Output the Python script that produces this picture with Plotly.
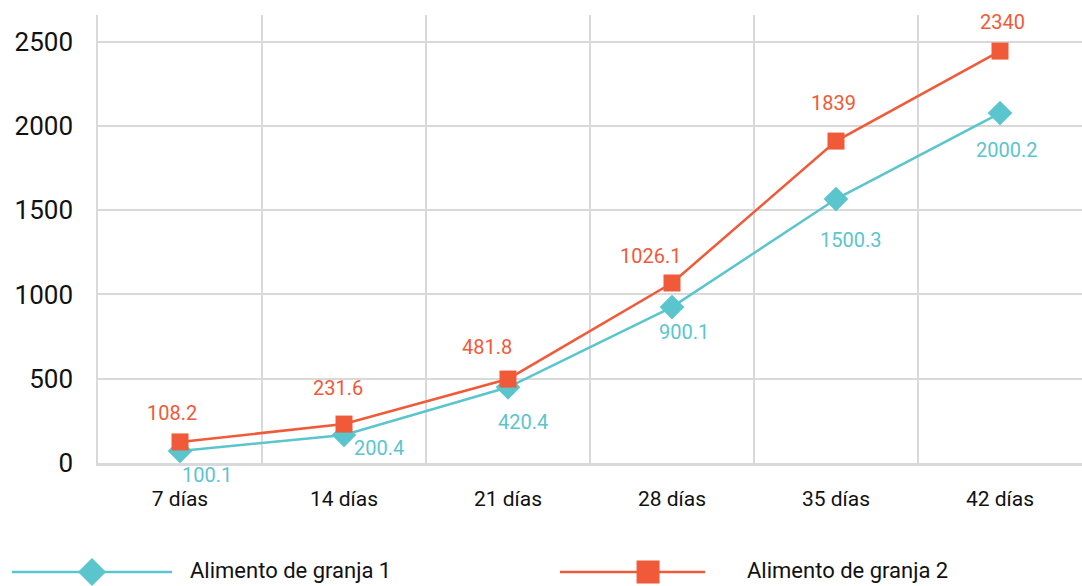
import plotly.graph_objects as go

dias = ["7 días", "14 días", "21 días", "28 días", "35 días", "42 días"]

# plotted heights as read against the gridlines
granja1 = [71, 166, 449, 925, 1566, 2076]
granja2 = [125, 231, 498, 1068, 1910, 2444]

# data labels as printed on the chart
etiquetas1 = ["100.1", "200.4", "420.4", "900.1", "1500.3", "2000.2"]
etiquetas2 = ["108.2", "231.6", "481.8", "1026.1", "1839", "2340"]

nombres = ["Alimento de granja 1", "Alimento de granja 2"]

TEAL = "#5bc5cd"
ORANGE = "#f15a38"
GRID = "#d9d9d9"
FONT = "Roboto, sans-serif"

fig = go.Figure()

fig.add_trace(
    go.Scatter(
        x=dias,
        y=granja1,
        name=nombres[0],
        mode="lines+markers",
        line=dict(color=TEAL, width=2.5),
        marker=dict(symbol="diamond", size=19, color=TEAL),
        hoverinfo="x+y",
    )
)
fig.add_trace(
    go.Scatter(
        x=dias,
        y=granja2,
        name=nombres[1],
        mode="lines+markers",
        line=dict(color=ORANGE, width=2.5),
        marker=dict(symbol="square", size=17, color=ORANGE),
        hoverinfo="x+y",
    )
)

# label offsets (px) to sit where the original labels sit
off1 = [(27, -24), (35, -13), (15, -35), (12, -25), (14, -41), (6, -37)]
off2 = [(-8, 29), (-6, 36), (-21, 32), (-22, 27), (-3, 38), (2, 29)]

annotations = []
for d, v, t, (dx, dy) in zip(dias, granja1, etiquetas1, off1):
    annotations.append(
        dict(x=d, y=v, text=t, showarrow=False, xshift=dx, yshift=dy,
             font=dict(size=20, color=TEAL, family=FONT))
    )
for d, v, t, (dx, dy) in zip(dias, granja2, etiquetas2, off2):
    annotations.append(
        dict(x=d, y=v, text=t, showarrow=False, xshift=dx, yshift=dy,
             font=dict(size=20, color=ORANGE, family=FONT))
    )

# hand-made legend below the axis, like the original
LEG_Y = -0.2433
leg = [
    (nombres[0], TEAL, -0.0874, 0.0752, -0.0061, 0.0915, "diamond"),
    (nombres[1], ORANGE, 0.4695, 0.6169, 0.559, 0.6575, "square"),
]
shapes = []
for name, col, x0, x1, xm, xt, sym in leg:
    shapes.append(
        dict(type="line", xref="paper", yref="paper", x0=x0, x1=x1,
             y0=LEG_Y, y1=LEG_Y, line=dict(color=col, width=2.5))
    )
    if sym == "diamond":
        shapes.append(
            dict(type="path", xref="paper", yref="paper",
                 xsizemode="pixel", ysizemode="pixel", xanchor=xm, yanchor=LEG_Y,
                 path="M-14,0 L0,14 L14,0 L0,-14 Z",
                 fillcolor=col, line=dict(width=0))
        )
    else:
        shapes.append(
            dict(type="rect", xref="paper", yref="paper",
                 xsizemode="pixel", ysizemode="pixel", xanchor=xm, yanchor=LEG_Y,
                 x0=-11.5, x1=11.5, y0=-11.5, y1=11.5,
                 fillcolor=col, line=dict(width=0))
        )
    annotations.append(
        dict(xref="paper", yref="paper", x=xt, y=LEG_Y + 0.004, text=name,
             xanchor="left", yanchor="middle", showarrow=False,
             font=dict(size=22, color="#111111", family=FONT))
    )

fig.update_layout(
    width=1082,
    height=586,
    margin=dict(l=98, r=0, t=15, b=123),
    plot_bgcolor="white",
    paper_bgcolor="white",
    showlegend=False,
    font=dict(family=FONT, color="#111111"),
    annotations=annotations,
    shapes=shapes,
    xaxis=dict(
        type="category",
        range=[-0.5, 5.5],
        tickson="boundaries",
        automargin=False,
        showgrid=True,
        gridcolor=GRID,
        gridwidth=1.5,
        showline=True,
        linecolor=GRID,
        linewidth=2.5,
        ticks="",
        ticklabelstandoff=15,
        tickfont=dict(size=21, color="#111111"),
        fixedrange=True,
    ),
    yaxis=dict(
        range=[0, 2658],
        tickvals=[0, 500, 1000, 1500, 2000, 2500],
        automargin=False,
        showgrid=True,
        gridcolor=GRID,
        gridwidth=1.5,
        zeroline=False,
        showline=True,
        linecolor=GRID,
        linewidth=1.5,
        ticks="",
        ticklabelstandoff=18,
        tickfont=dict(size=26, color="#111111"),
        fixedrange=True,
    ),
)

fig.write_html(
    "out.html",
    config={"displayModeBar": False},
    post_script="document.body.style.margin='0';document.body.style.overflow='hidden';",
)
